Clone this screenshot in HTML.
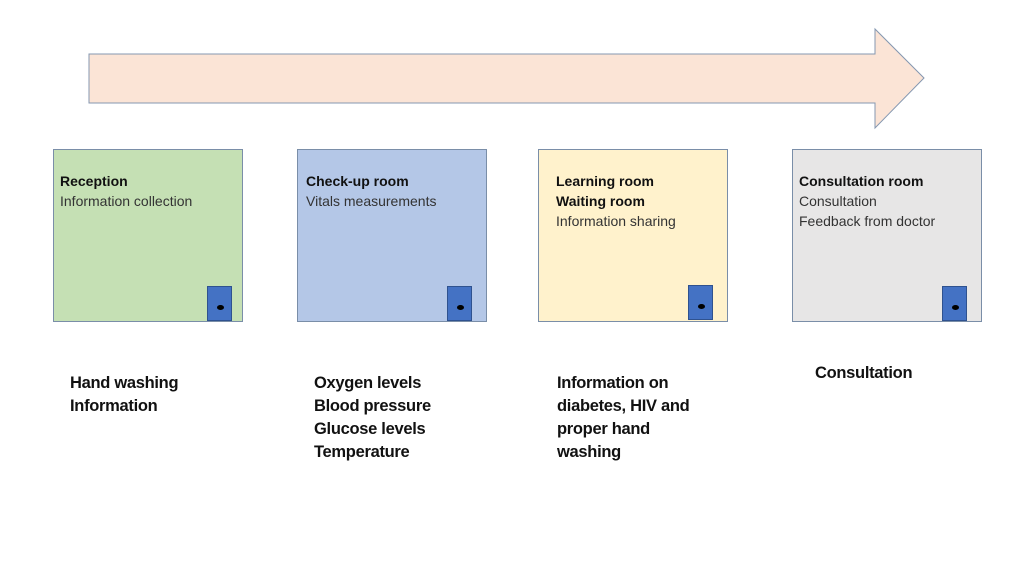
<!DOCTYPE html>
<html><head><style>
body{margin:0;width:1024px;height:576px;background:#fff;position:relative;overflow:hidden;font-family:"Liberation Sans",sans-serif;color:#222}
.b{position:absolute;top:149px;width:188px;height:171px;border:1px solid #7a8ea8;box-sizing:content-box}
.t{position:absolute;font-size:14px;line-height:20px;white-space:nowrap;color:#333}
.t b{color:#111}
.d{position:absolute;width:25px;height:35px;background:#4472c4;border:1px solid #2f528f;box-sizing:border-box}
.d:after{content:"";position:absolute;left:9px;top:18px;width:7px;height:5px;border-radius:50%;background:#000}
.l{position:absolute;font-size:16.5px;font-weight:bold;line-height:23px;white-space:nowrap;color:#111;letter-spacing:-0.3px}
</style></head><body>
<svg width="1024" height="576" style="position:absolute;left:0;top:0">
<polygon points="89,54 875,54 875,29 924,78 875,128 875,103 89,103" fill="#fbe4d6" stroke="#8497b0" stroke-width="1"/>
</svg>
<div class="b" style="left:53px;background:#c5e0b4"></div>
<div class="b" style="left:297px;background:#b4c7e7"></div>
<div class="b" style="left:538px;background:#fff2cc"></div>
<div class="b" style="left:792px;background:#e7e6e6"></div>
<div class="d" style="left:207px;top:286px"></div>
<div class="d" style="left:447px;top:286px"></div>
<div class="d" style="left:688px;top:285px"></div>
<div class="d" style="left:942px;top:286px"></div>
<div class="t" style="left:60px;top:171px"><b>Reception</b><br>Information collection</div>
<div class="t" style="left:306px;top:171px"><b>Check-up room</b><br>Vitals measurements</div>
<div class="t" style="left:556px;top:171px"><b>Learning room</b><br><b>Waiting room</b><br>Information sharing</div>
<div class="t" style="left:799px;top:171px"><b>Consultation room</b><br>Consultation<br>Feedback from doctor</div>
<div class="l" style="left:70px;top:372px">Hand washing<br>Information</div>
<div class="l" style="left:314px;top:372px">Oxygen levels<br>Blood pressure<br>Glucose levels<br>Temperature</div>
<div class="l" style="left:557px;top:372px">Information on<br>diabetes, HIV and<br>proper hand<br>washing</div>
<div class="l" style="left:815px;top:362px">Consultation</div>
</body></html>
